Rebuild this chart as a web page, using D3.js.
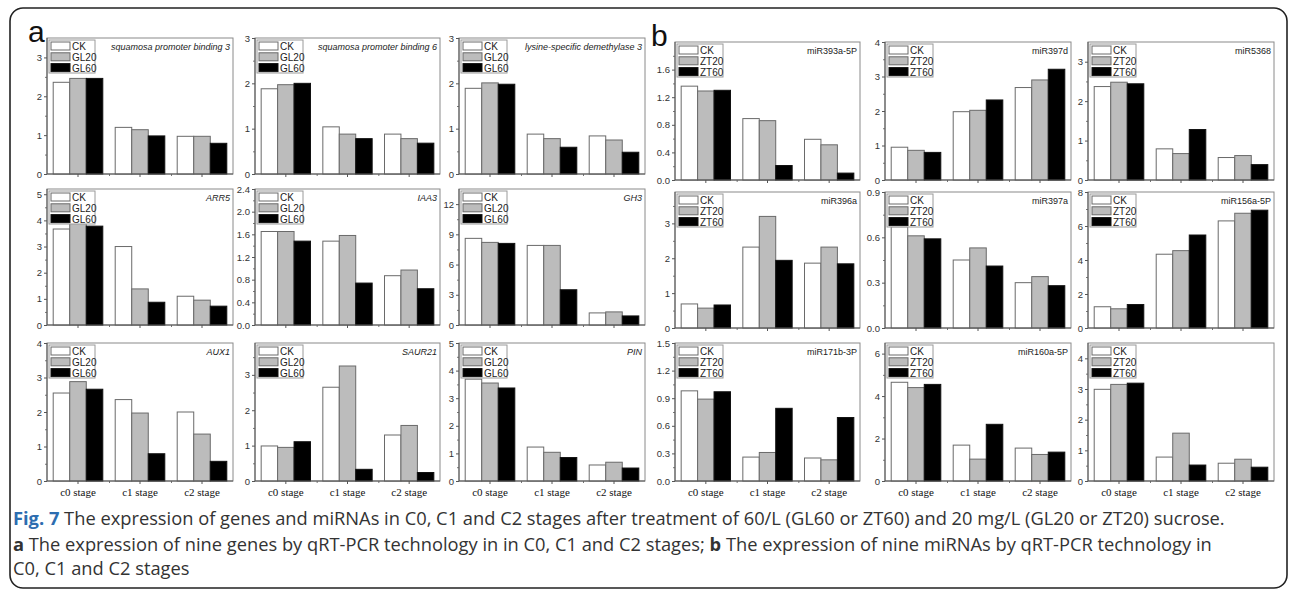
<!DOCTYPE html>
<html>
<head>
<meta charset="utf-8">
<script src="https://cdn.jsdelivr.net/npm/d3@7"></script>
<style>
  body { margin: 0; background: #fff; }
  svg { display: block; }
</style>
</head>
<body>
<div id="chart"></div>
<script>
(function () {
  'use strict';

  // ---- data ----
  const stages = ['c0 stage', 'c1 stage', 'c2 stage'];
  const seriesA = ['CK', 'GL20', 'GL60'];
  const seriesB = ['CK', 'ZT20', 'ZT60'];

  // each array: one row per stage, values in series order
  const spb3    = [[2.36, 2.46, 2.46], [1.20, 1.14, 0.98], [0.97, 0.97, 0.79]];
  const spb6    = [[1.88, 1.97, 2.00], [1.04, 0.88, 0.78], [0.88, 0.78, 0.68]];
  const lsd3    = [[1.89, 2.01, 1.98], [0.88, 0.78, 0.59], [0.84, 0.75, 0.48]];
  const arr5    = [[3.67, 3.92, 3.78], [3.00, 1.38, 0.87], [1.10, 0.95, 0.72]];
  const iaa3    = [[1.65, 1.65, 1.48], [1.48, 1.58, 0.74], [0.87, 0.97, 0.64]];
  const gh3     = [[8.6, 8.2, 8.1], [7.9, 7.9, 3.5], [1.2, 1.3, 0.9]];
  const aux1    = [[2.55, 2.88, 2.66], [2.36, 1.97, 0.79], [2.00, 1.36, 0.57]];
  const saur21  = [[0.99, 0.95, 1.11], [2.65, 3.25, 0.33], [1.30, 1.57, 0.24]];
  const pin     = [[3.69, 3.55, 3.37], [1.23, 1.04, 0.85], [0.58, 0.68, 0.47]];
  const mir393a = [[1.36, 1.29, 1.30], [0.89, 0.86, 0.21], [0.59, 0.51, 0.10]];
  const mir397d = [[0.95, 0.86, 0.80], [1.98, 2.02, 2.32], [2.68, 2.90, 3.21]];
  const mir5368 = [[2.37, 2.48, 2.44], [0.79, 0.67, 1.28], [0.57, 0.62, 0.39]];
  const mir396a = [[0.69, 0.57, 0.66], [2.32, 3.20, 1.94], [1.86, 2.32, 1.84]];
  const mir397a = [[0.67, 0.61, 0.59], [0.45, 0.53, 0.41], [0.30, 0.34, 0.28]];
  const mir156a = [[1.25, 1.13, 1.38], [4.34, 4.55, 5.47], [6.30, 6.75, 6.93]];
  const mir171b = [[0.98, 0.89, 0.97], [0.26, 0.31, 0.79], [0.25, 0.23, 0.69]];
  const mir160a = [[4.65, 4.40, 4.55], [1.69, 1.03, 2.67], [1.55, 1.25, 1.36]];
  const mirLast = [[2.99, 3.15, 3.19], [0.78, 1.56, 0.52], [0.58, 0.71, 0.45]];

  const panels = [
    { title: 'squamosa promoter binding 3', italic: true,  series: seriesA, values: spb3,    max: 3.5,  ticks: [0, 1, 2, 3] },
    { title: 'squamosa promoter binding 6', italic: true,  series: seriesA, values: spb6,    max: 3,    ticks: [0, 1, 2, 3] },
    { title: 'lysine-specific demethylase 3', italic: true, series: seriesA, values: lsd3,   max: 3,    ticks: [0, 1, 2, 3] },
    { title: 'miR393a-5P', italic: false, series: seriesB, values: mir393a, max: 2.0,  ticks: [0, 0.4, 0.8, 1.2, 1.6], dec: 1 },
    { title: 'miR397d',    italic: false, series: seriesB, values: mir397d, max: 4,    ticks: [0, 1, 2, 3, 4] },
    { title: 'miR5368',    italic: false, series: seriesB, values: mir5368, max: 3.5,  ticks: [0, 1, 2, 3] },
    { title: 'ARR5',       italic: true,  series: seriesA, values: arr5,    max: 5.2,  ticks: [0, 1, 2, 3, 4, 5] },
    { title: 'IAA3',       italic: true,  series: seriesA, values: iaa3,    max: 2.4,  ticks: [0, 0.4, 0.8, 1.2, 1.6, 2.0, 2.4], dec: 1 },
    { title: 'GH3',        italic: true,  series: seriesA, values: gh3,     max: 13.5, ticks: [0, 3, 6, 9, 12] },
    { title: 'miR396a',    italic: false, series: seriesB, values: mir396a, max: 3.9,  ticks: [0, 1, 2, 3] },
    { title: 'miR397a',    italic: false, series: seriesB, values: mir397a, max: 0.9,  ticks: [0, 0.3, 0.6, 0.9], dec: 1 },
    { title: 'miR156a-5P', italic: false, series: seriesB, values: mir156a, max: 8,    ticks: [0, 2, 4, 6, 8] },
    { title: 'AUX1',       italic: true,  series: seriesA, values: aux1,    max: 4,    ticks: [0, 1, 2, 3, 4] },
    { title: 'SAUR21',     italic: true,  series: seriesA, values: saur21,  max: 3.9,  ticks: [0, 1, 2, 3] },
    { title: 'PIN',        italic: true,  series: seriesA, values: pin,     max: 5,    ticks: [0, 1, 2, 3, 4, 5] },
    { title: 'miR171b-3P', italic: false, series: seriesB, values: mir171b, max: 1.5,  ticks: [0, 0.3, 0.6, 0.9, 1.2, 1.5], dec: 1 },
    { title: 'miR160a-5P', italic: false, series: seriesB, values: mir160a, max: 6.5,  ticks: [0, 2, 4, 6] },
    { title: '',           italic: false, series: seriesB, values: mirLast, max: 4.5,  ticks: [0, 1, 2, 3, 4] }
  ];

  // ---- layout ----
  const W = 1290, H = 595;
  const cols = [[47, 233], [255, 440], [459, 645], [675, 860], [885, 1071], [1088, 1274]];
  const rowsA = [[38, 174], [189, 325], [343, 481]];
  const rowsB = [[42, 180], [192, 328], [343, 481]];
  const fills = ['#ffffff', '#bcbcbc', '#000000'];

  const svg = d3.select('#chart').append('svg')
    .attr('width', W).attr('height', H)
    .style('font-family', '"Liberation Sans", Arial, sans-serif');

  svg.append('rect')
    .attr('x', 10).attr('y', 8).attr('width', 1277).attr('height', 580)
    .attr('rx', 13).attr('fill', 'none').attr('stroke', '#222').attr('stroke-width', 1.6);

  svg.append('text').attr('x', 28).attr('y', 42).attr('font-size', 30).attr('fill', '#111').text('a');
  svg.append('text').attr('x', 651).attr('y', 46).attr('font-size', 30).attr('fill', '#111').text('b');

  panels.forEach((p, idx) => {
    const r = Math.floor(idx / 6), c = idx % 6;
    const [x0, x1] = cols[c];
    const [y0, y1] = (c < 3 ? rowsA : rowsB)[r];
    const g = svg.append('g');

    const x = d3.scaleBand().domain(stages).range([x0, x1]).paddingInner(0.2).paddingOuter(0.1);
    const xs = d3.scaleBand().domain(p.series).range([0, x.bandwidth()]);
    const xl = d3.scaleLinear().domain([0, 3]).range([x0, x1]);
    const y = d3.scaleLinear().domain([0, p.max]).range([y1, y0]);

    // plot frame
    g.append('rect')
      .attr('x', x0).attr('y', y0).attr('width', x1 - x0).attr('height', y1 - y0)
      .attr('fill', 'none').attr('stroke', '#8a8a8a').attr('stroke-width', 1);

    // bars
    p.values.forEach((row, i) => {
      g.selectAll(null)
        .data(row)
        .enter().append('rect')
        .attr('x', (d, j) => x(stages[i]) + xs(p.series[j]))
        .attr('y', (d) => y(d))
        .attr('width', xs.bandwidth())
        .attr('height', (d) => y(0) - y(d))
        .attr('fill', (d, j) => fills[j])
        .attr('stroke', (d, j) => (j === 2 ? '#111' : '#6a6a6a'))
        .attr('stroke-width', 1);
    });

    // y axis (major + minor ticks)
    const step = p.ticks[1] - p.ticks[0];
    const minor = d3.range(step / 2, p.max, step).filter((v) => p.ticks.indexOf(v) < 0);
    const fmt = p.dec ? d3.format('.1f') : d3.format('d');
    const ya = g.append('g').attr('transform', `translate(${x0},0)`)
      .call(d3.axisLeft(y).tickValues(p.ticks).tickSize(3).tickPadding(2).tickFormat(fmt));
    ya.select('.domain').remove();
    ya.selectAll('line').attr('stroke', '#555');
    ya.selectAll('text').attr('font-size', 9.5).attr('fill', '#333').attr('font-family', '"Liberation Sans", Arial, sans-serif');
    const ym = g.append('g').attr('transform', `translate(${x0},0)`)
      .call(d3.axisLeft(y).tickValues(minor).tickSize(2).tickFormat(''));
    ym.select('.domain').remove();
    ym.selectAll('line').attr('stroke', '#777');

    // x axis
    const xa = g.append('g').attr('transform', `translate(0,${y1})`)
      .call(d3.axisBottom(x).tickSize(3).tickPadding(4).tickFormat(r === 2 ? (d) => d : () => ''));
    xa.select('.domain').remove();
    xa.selectAll('line').attr('stroke', '#555');
    xa.selectAll('text').attr('font-size', 11).attr('fill', '#111')
      .attr('font-family', '"Liberation Serif", "Times New Roman", serif');
    const xm = g.append('g').attr('transform', `translate(0,${y1})`)
      .call(d3.axisBottom(xl).tickValues([1, 2]).tickSize(2).tickFormat(''));
    xm.select('.domain').remove();
    xm.selectAll('line').attr('stroke', '#777');

    // axis lines
    g.append('line').attr('x1', x0).attr('x2', x0).attr('y1', y0).attr('y2', y1).attr('stroke', '#555');
    g.append('line').attr('x1', x0).attr('x2', x1).attr('y1', y1).attr('y2', y1).attr('stroke', '#555');

    // title
    if (p.title) {
      g.append('text')
        .attr('x', x1 - 3).attr('y', y0 + 12)
        .attr('text-anchor', 'end')
        .attr('font-size', 9)
        .attr('font-style', p.italic ? 'italic' : 'normal')
        .attr('fill', '#222')
        .text(p.title);
    }

    // legend
    const lg = g.append('g').attr('transform', `translate(${x0 + 2},${y0 + 2})`);
    lg.append('rect').attr('width', 46).attr('height', 33)
      .attr('fill', '#fff').attr('stroke', '#9a9a9a');
    p.series.forEach((s, j) => {
      lg.append('rect')
        .attr('x', 2).attr('y', 2 + j * 10.8).attr('width', 19).attr('height', 8)
        .attr('fill', fills[j]).attr('stroke', j === 2 ? '#111' : '#6a6a6a');
      lg.append('text')
        .attr('x', 23).attr('y', 10 + j * 10.8)
        .attr('font-size', 10).attr('fill', '#222')
        .text(s);
    });
  });

  // caption
  const cap = svg.append('g')
    .style('font-family', '"Open Sans", "Noto Sans", sans-serif')
    .attr('font-size', 18.3).attr('fill', '#333');
  const l1 = cap.append('text').attr('x', 13).attr('y', 525);
  l1.append('tspan').attr('font-weight', 'bold').attr('fill', '#2d6db0').text('Fig. 7');
  l1.append('tspan').text(' The expression of genes and miRNAs in C0, C1 and C2 stages after treatment of 60/L (GL60 or ZT60) and 20\u00a0mg/L (GL20 or ZT20) sucrose.');
  const l2 = cap.append('text').attr('x', 13).attr('y', 551);
  l2.append('tspan').attr('font-weight', 'bold').text('a');
  l2.append('tspan').text(' The expression of nine genes by qRT-PCR technology in in C0, C1 and C2 stages; ');
  l2.append('tspan').attr('font-weight', 'bold').text('b');
  l2.append('tspan').text(' The expression of nine miRNAs by qRT-PCR technology in');
  cap.append('text').attr('x', 13).attr('y', 575).text('C0, C1 and C2 stages');
})();
</script>
</body>
</html>
